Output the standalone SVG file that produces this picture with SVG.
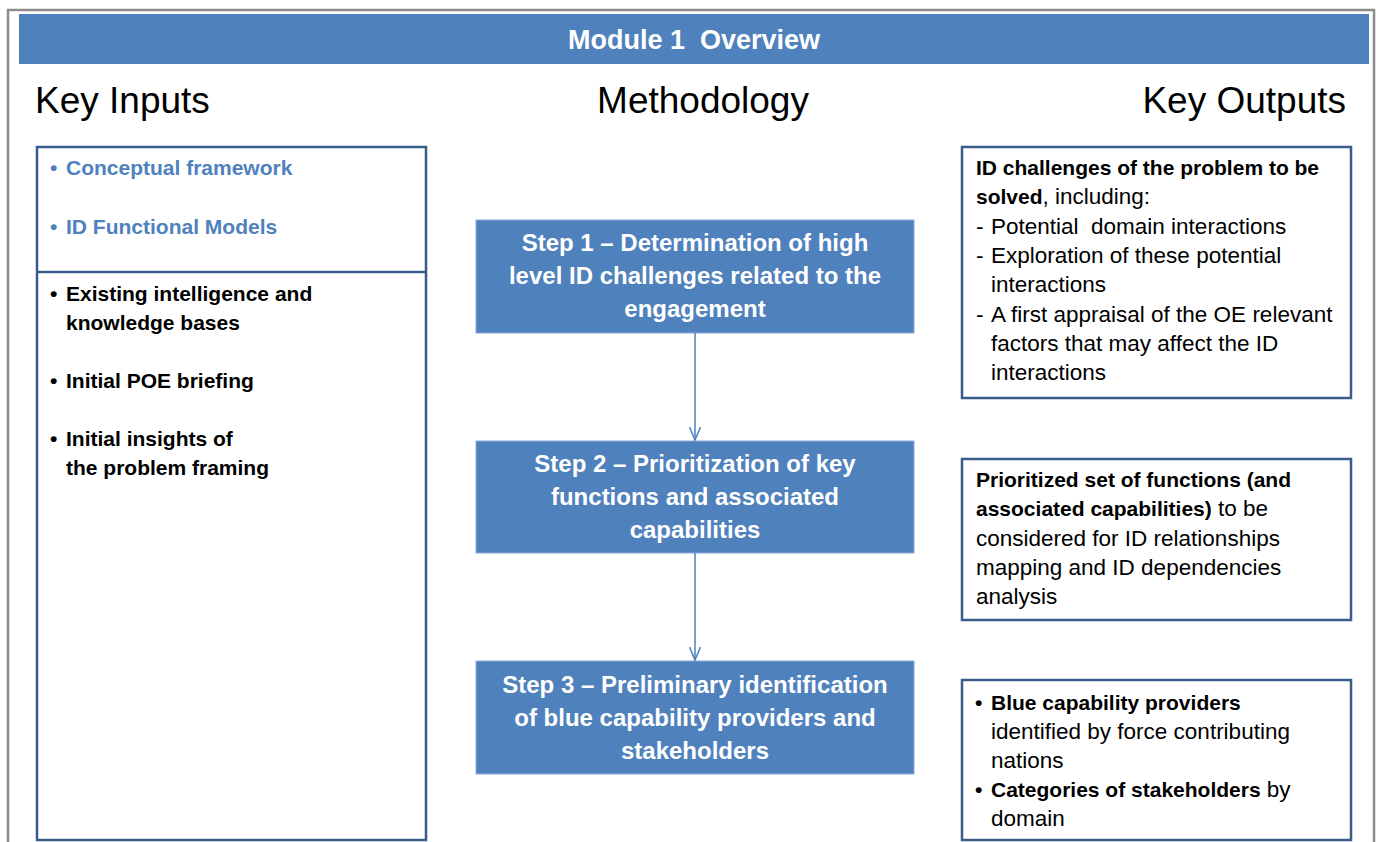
<svg xmlns="http://www.w3.org/2000/svg" width="1377" height="842" viewBox="0 0 1377 842">
<style>
text{font-family:"Liberation Sans",Arial,sans-serif}
.pre{white-space:pre}
.box{fill:#fff;stroke:#385D8A;stroke-width:2.5}
.step{fill:#4F81BD;stroke:#8EAADB;stroke-width:1}
.st{fill:#fff;font-weight:bold;font-size:24px;text-anchor:middle}
.h{font-size:37px;fill:#000}
.b{font-weight:bold;font-size:21px;fill:#000}
.bl{font-weight:bold;font-size:21px;fill:#4F81BD}
.r{font-size:22.5px;fill:#000}
.rb{font-weight:bold;font-size:21px}
.conn{stroke:#4F81BD;stroke-width:1.5;fill:none}
</style>
<defs>
<marker id="arr" markerWidth="16" markerHeight="12" refX="14" refY="6" orient="auto" markerUnits="userSpaceOnUse">
<path d="M1,0.5 L14,6 L1,11.5" fill="none" stroke="#4F81BD" stroke-width="1.5"/>
</marker>
</defs>
<rect width="1377" height="842" fill="#fff"/>
<rect x="8" y="10" width="1366" height="900" fill="none" stroke="#8C8C8C" stroke-width="2.5"/>
<g id="header">
<rect x="19" y="14" width="1350" height="50" fill="#4F81BD"/>
<text class="pre" xml:space="preserve" x="694" y="49" fill="#fff" font-weight="bold" font-size="27" text-anchor="middle">Module 1  Overview</text>
</g>
<g id="headings">
<text class="h" x="35" y="113">Key Inputs</text>
<text class="h" x="703" y="113" text-anchor="middle">Methodology</text>
<text class="h" x="1346" y="113" text-anchor="end">Key Outputs</text>
</g>
<g id="inputs">
<rect class="box" x="37" y="147" width="389" height="693"/>
<line x1="37" y1="272" x2="426" y2="272" stroke="#385D8A" stroke-width="2.5"/>
<text class="bl" x="50" y="175">•</text><text class="bl" x="66" y="175">Conceptual framework</text>
<text class="bl" x="50" y="234">•</text><text class="bl" x="66" y="234">ID Functional Models</text>
<text class="b" x="50" y="301">•</text><text class="b" x="66" y="301">Existing intelligence and</text>
<text class="b" x="66" y="330">knowledge bases</text>
<text class="b" x="50" y="388">•</text><text class="b" x="66" y="388">Initial POE briefing</text>
<text class="b" x="50" y="446">•</text><text class="b" x="66" y="446">Initial insights of</text>
<text class="b" x="66" y="475">the problem framing</text>
</g>
<g id="step1">
<rect class="step" x="476" y="220" width="438" height="113"/>
<text class="st" x="695" y="251">Step 1 – Determination of high</text>
<text class="st" x="695" y="284">level ID challenges related to the</text>
<text class="st" x="695" y="317">engagement</text>
</g>
<g id="step2">
<rect class="step" x="476" y="441" width="438" height="112"/>
<text class="st" x="695" y="472">Step 2 – Prioritization of key</text>
<text class="st" x="695" y="505">functions and associated</text>
<text class="st" x="695" y="538">capabilities</text>
</g>
<g id="step3">
<rect class="step" x="476" y="661" width="438" height="113"/>
<text class="st" x="695" y="693">Step 3 – Preliminary identification</text>
<text class="st" x="695" y="726">of blue capability providers and</text>
<text class="st" x="695" y="759">stakeholders</text>
</g>
<g id="connectors">
<line class="conn" x1="695" y1="333" x2="695" y2="440" marker-end="url(#arr)"/>
<line class="conn" x1="695" y1="553" x2="695" y2="660" marker-end="url(#arr)"/>
</g>
<g id="output1">
<rect class="box" x="962" y="147" width="389" height="251"/>
<text class="b" x="976" y="175">ID challenges of the problem to be</text>
<text class="r" x="976" y="204"><tspan class="rb">solved</tspan>, including:</text>
<text class="r" x="976" y="234">-</text><text class="r pre" xml:space="preserve" x="991" y="234">Potential  domain interactions</text>
<text class="r" x="976" y="263">-</text><text class="r" x="991" y="263">Exploration of these potential</text>
<text class="r" x="991" y="292">interactions</text>
<text class="r" x="976" y="322">-</text><text class="r" x="991" y="322">A first appraisal of the OE relevant</text>
<text class="r" x="991" y="351">factors that may affect the ID</text>
<text class="r" x="991" y="380">interactions</text>
</g>
<g id="output2">
<rect class="box" x="962" y="459" width="389" height="161"/>
<text class="b" x="976" y="487">Prioritized set of functions (and</text>
<text class="r" x="976" y="516"><tspan class="rb">associated capabilities)</tspan> to be</text>
<text class="r" x="976" y="546">considered for ID relationships</text>
<text class="r" x="976" y="575">mapping and ID dependencies</text>
<text class="r" x="976" y="604">analysis</text>
</g>
<g id="output3">
<rect class="box" x="962" y="680" width="389" height="160"/>
<text class="b" x="975" y="710">•</text><text class="b" x="991" y="710">Blue capability providers</text>
<text class="r" x="991" y="739">identified by force contributing</text>
<text class="r" x="991" y="768">nations</text>
<text class="b" x="975" y="797">•</text><text class="r" x="991" y="797"><tspan class="rb">Categories of stakeholders</tspan> by</text>
<text class="r" x="991" y="826">domain</text>
</g>
</svg>
